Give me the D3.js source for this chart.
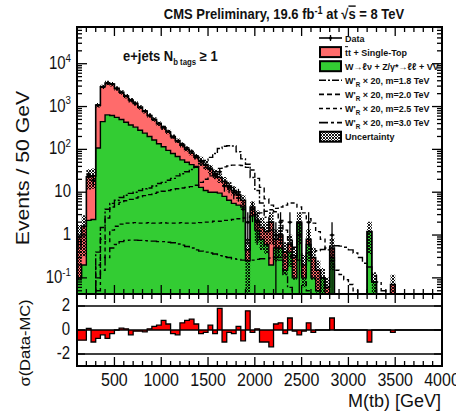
<!DOCTYPE html>
<html>
<head>
<meta charset="utf-8">
<script src="https://cdn.jsdelivr.net/npm/d3@7"></script>
<style>
  body { margin: 0; background: #fff; }
  svg { display: block; }
  text { font-family: "Liberation Sans", Arial, Helvetica, sans-serif; }
</style>
</head>
<body>
<svg id="chart" width="456" height="416"></svg>
<script>
// ---- binning: 50 GeV bins from 100 to 4000 GeV ----
const massEdges = d3.range(100, 4001, 50);

// W+jets + Z/gamma* + diboson (green), events per bin
const wjets = [0.1,0.2,2.2,2.3,108,445,640,620,560,500,430,370,330,280,240,200,165,135,115,95,
  80,68,57,50,44,38,13,11,10,10,9.5,8,6.5,5.5,5,4.5,0.25,2.8,1.3,0.8,
  0.6,0.2,0.5,0.5,0.15,0.4,0.1,1.9,0.1,0.6,0.1,0.05,0.1,0,0.3,0,0,0,0,0,
  0,0,1.2,0.08,0,0,0,0,0,0,0,0,0,0,0,0,0,0];

// ttbar + single top (red), stacked on top of wjets
const ttbar = [0.8,1.4,20.8,21.7,972,2455,2910,2730,2090,1650,1320,1050,850,680,540,420,335,265,205,160,
  120,92,69,50,38,28,41,33,24,17,12.5,10,7.5,5.5,3.6,2.0,0.2,1.7,0.9,0.7,
  0.6,1.8,0.3,0.5,0.25,0.2,0.2,0.1,0.1,0.2,0.2,0.1,0,0.06,0.2,0,0,0,0,0,
  0,0,0,0,0,0,0,0.07,0,0,0,0,0,0,0,0,0,0];

// relative uncertainty on the total background
const bkgUnc = [0.9,0.8,0.5,0.5,0.12,0.12,0.12,0.12,0.12,0.12,0.12,0.12,0.12,0.12,0.12,0.12,0.12,0.12,0.12,0.12,
  0.12,0.12,0.12,0.12,0.12,0.12,0.25,0.25,0.25,0.25,0.25,0.25,0.25,0.25,0.25,0.3,0.9,0.35,0.7,0.7,
  0.7,0.7,0.7,0.7,0.7,0.7,0.7,0.7,0.7,0.7,0.7,0.7,0.7,0.7,0.7,0.7,0.7,0.7,0.7,0.7,
  0.7,0.7,0.7,0.7,0.7,0.7,0.7,0.7,0.7,0.7,0.7,0.7,0.7,0.7,0.7,0.7,0.7,0.7];

// observed events
const dataCounts = [0,0,25,19,1057,2880,3510,3320,2650,2157,1754,1405,1177,957,776,622,507,408,334,263,
  195,155,133,108,90,70,52,43,36,25,30,14,13,10,9,4,2,4,2,0,
  0,0,1,2,0,2,0,1,0,2,0,0,0,0,1,0,0,0,0,0,
  0,0,0,0,0,0,0,0,0,0,0,0,0,0,0,0,0,0];

// (Data - MC) / sigma per bin
const pulls = [-0.85,-0.85,0.14,-1.0,-0.7,-0.4,-0.7,-0.3,0,0.15,0.1,-0.4,-0.1,-0.1,-0.15,0.1,0.3,0.4,0.8,0.5,
  -0.3,-0.4,0.6,0.8,0.9,0.5,-0.3,-0.2,0.4,-0.3,1.8,-1.0,-0.2,-0.3,0.3,-0.9,1.6,-0.2,0.1,-1.0,
  -1.0,-1.4,0.5,0.6,-0.3,1.0,-0.1,-0.4,-0.1,0.6,-0.2,0,0,0,1.0,0,0,0,0,0,
  0,0,-1.0,0,0,0,0,-0.2,0,0,0,0,0,0,0,0,0,0];

// W'_R signals, scaled by 20
const sigM18 = [0,0,0,0,0.4,1.5,4,5.5,6.5,7.5,8.5,9.4,10,11,12,12.5,14,16,17,19,
  21,24,27,30,34,40,46,55,65,80,105,118,122,120,88,60,45,22,11,5.6,
  2.6,1.3,0.52,0.26,0.12,0.06,0,0,0,0,0,0,0,0,0,0,0,0,0,0,
  0,0,0,0,0,0,0,0,0,0,0,0,0,0,0,0,0,0];
const sigM20 = [0,0,0,0,0.2,0.8,2.5,4.5,5.2,5.8,6.3,6.8,7.3,7.8,8.3,8.8,9.4,10,10.5,11,
  11.5,12,12.5,13,13.5,14.5,17,20,24,30,36,39,41,43,43,42,38,33,21,13,
  7,5,3.5,2.2,1.3,0.76,0.52,0.26,0.12,0.05,0,0,0,0,0,0,0,0,0,0,
  0,0,0,0,0,0,0,0,0,0,0,0,0,0,0,0,0,0];
const sigM25 = [0,0,0,0,0.1,0.3,0.7,1.3,1.6,1.8,1.9,1.9,1.95,1.9,1.9,1.95,1.9,1.9,1.95,1.9,
  1.9,1.9,1.95,1.9,1.9,1.9,1.95,2.0,2.0,2.1,2.1,2.2,2.2,2.3,2.4,2.5,2.6,2.8,3.0,3.3,
  3.6,3.9,4.2,4.5,5.0,5.6,5.6,4.5,3.3,2.4,1.9,1.2,0.8,0.45,0.25,0.15,0.12,0.09,0.07,0.05,
  0,0,0,0,0,0,0,0,0,0,0,0,0,0,0,0,0,0];
const sigM30 = [0,0,0,0,0.05,0.15,0.3,0.5,0.6,0.7,0.75,0.76,0.76,0.75,0.74,0.72,0.72,0.7,0.7,0.68,
  0.66,0.62,0.58,0.54,0.5,0.45,0.42,0.4,0.38,0.36,0.33,0.31,0.3,0.28,0.27,0.26,0.26,0.26,0.27,0.28,
  0.28,0.29,0.3,0.3,0.31,0.32,0.33,0.34,0.36,0.38,0.4,0.43,0.46,0.5,0.55,0.56,0.55,0.52,0.45,0.38,
  0.3,0.22,0.18,0.12,0.08,0.05,0,0,0,0,0,0,0,0,0,0,0,0];

const signalSeries = [
  { vals: sigM18, dash: "7,2,2,2", label: ", m=1.8 TeV" },
  { vals: sigM20, dash: "5,3",     label: ", m=2.0 TeV" },
  { vals: sigM25, dash: "4,3",     label: ", m=2.5 TeV" },
  { vals: sigM30, dash: "9,3,3,3", label: ", m=3.0 TeV" }
];

const xTickValues = [500, 1000, 1500, 2000, 2500, 3000, 3500, 4000];
const yTickLabels = [
  { v: 1e4, base: "10", sup: "4" },
  { v: 1e3, base: "10", sup: "3" },
  { v: 1e2, base: "10", sup: "2" },
  { v: 10,  base: "10", sup: "" },
  { v: 1,   base: "1",  sup: "" },
  { v: 0.1, base: "10", sup: "-1" }
];
const ratioTickValues = [2, 0, -2];

// ---- layout ----
const L = 77, R = 442, T = 27, B = 294, RB = 366;
const STRETCH = 1.18;
const FLOOR = 1e-3;
const RED = "#ff6b6b", GREEN = "#33cc33";

const svg = d3.select("#chart");
const x = d3.scaleLinear().domain([100, 4000]).range([L, R]);
const y = d3.scaleLog().domain([0.042, 72000]).range([B, T]);
const yr = d3.scaleLinear().domain([-3, 3]).range([RB, B]);

const defs = svg.append("defs");
defs.append("clipPath").attr("id", "mainClip")
  .append("rect").attr("x", L).attr("y", T).attr("width", R - L).attr("height", B - T);
defs.append("clipPath").attr("id", "ratioClip")
  .append("rect").attr("x", L).attr("y", B).attr("width", R - L).attr("height", RB - B);
const hatch = defs.append("pattern").attr("id", "hatch")
  .attr("patternUnits", "userSpaceOnUse").attr("width", 3).attr("height", 3);
hatch.append("path").attr("d", "M0,3 L3,0 M-1,1 L1,-1 M2,4 L4,2").attr("stroke", "#000").attr("stroke-width", 0.9);
hatch.append("path").attr("d", "M0,0 L3,3 M-1,2 L1,4 M2,-1 L4,1").attr("stroke", "#000").attr("stroke-width", 0.9);

// text helper: parts = [{t, o (baseline offset), s (size factor), deco}]
function drawText(parent, px, py, parts, opt) {
  const size = opt.size, st = opt.stretch ?? STRETCH;
  let tf = `translate(${px},${py}) scale(1,${st})`;
  if (opt.rotate) tf += ` rotate(${opt.rotate})`;
  const t = parent.append("text").attr("transform", tf)
    .attr("font-size", size).attr("text-anchor", opt.anchor || "start")
    .attr("font-weight", opt.weight || "normal").attr("fill", opt.fill || "#111");
  let prev = 0;
  parts.forEach(p => {
    const o = p.o || 0;
    const ts = t.append("tspan").text(p.t).attr("font-size", size * (p.s || 1));
    if (o !== prev) ts.attr("dy", o - prev);
    if (p.deco) ts.attr("text-decoration", p.deco);
    prev = o;
  });
  return t;
}

function binPts(vals) {
  return vals.flatMap((v, i) => [[massEdges[i], v], [massEdges[i + 1], v]]);
}
const ylog = v => y(Math.max(v, FLOOR));
const stepLine = d3.line().x(d => x(d[0])).y(d => ylog(d[1]));

const totals = wjets.map((w, i) => w + ttbar[i]);

// ---- main panel ----
const main = svg.append("g").attr("clip-path", "url(#mainClip)");

const greenPts = binPts(wjets);
const totalPts = binPts(totals);

main.append("path")
  .attr("d", d3.area().x(d => x(d[0])).y0(B + 80).y1(d => ylog(d[1]))(greenPts))
  .attr("fill", GREEN);
main.append("path")
  .attr("d", d3.area().x(d => x(d[0])).y0((d, i) => ylog(greenPts[i][1])).y1(d => ylog(d[1]))(totalPts))
  .attr("fill", RED);
main.append("path").attr("d", stepLine(greenPts)).attr("fill", "none").attr("stroke", "#000").attr("stroke-width", 1.4);
main.append("path").attr("d", stepLine(totalPts)).attr("fill", "none").attr("stroke", "#000").attr("stroke-width", 1.6);

// uncertainty band
const uncPts = totals.flatMap((t, i) => {
  const lo = t * (1 - bkgUnc[i]), hi = t * (1 + bkgUnc[i]);
  return [{ x: massEdges[i], lo, hi, ok: t > 0 }, { x: massEdges[i + 1], lo, hi, ok: t > 0 }];
});
main.append("path")
  .attr("d", d3.area().defined(d => d.ok).x(d => x(d.x)).y0(d => ylog(d.lo)).y1(d => ylog(d.hi))(uncPts))
  .attr("fill", "url(#hatch)");

// signals
signalSeries.forEach(s => {
  main.append("path").attr("d", stepLine(binPts(s.vals)))
    .attr("fill", "none").attr("stroke", "#000").attr("stroke-width", 1.4)
    .attr("stroke-dasharray", s.dash);
});

// data points
const dataG = main.append("g");
dataCounts.forEach((n, i) => {
  if (n <= 0) return;
  const cx = x((massEdges[i] + massEdges[i + 1]) / 2);
  const err = Math.sqrt(n);
  dataG.append("line").attr("x1", cx).attr("x2", cx)
    .attr("y1", ylog(n - err)).attr("y2", ylog(n + err)).attr("stroke", "#000").attr("stroke-width", 1.3);
  dataG.append("line").attr("x1", x(massEdges[i])).attr("x2", x(massEdges[i + 1]))
    .attr("y1", ylog(n)).attr("y2", ylog(n)).attr("stroke", "#000").attr("stroke-width", 1.3);
  dataG.append("circle").attr("cx", cx).attr("cy", ylog(n)).attr("r", 1.5).attr("fill", "#000");
});

// ---- ratio panel ----
const ratio = svg.append("g").attr("clip-path", "url(#ratioClip)");
const pullPts = binPts(pulls);
ratio.append("path")
  .attr("d", d3.area().x(d => x(d[0])).y0(yr(0)).y1(d => yr(d[1]))(pullPts))
  .attr("fill", "#ff0000");
ratio.append("path")
  .attr("d", d3.line().x(d => x(d[0])).y(d => yr(d[1]))(pullPts))
  .attr("fill", "none").attr("stroke", "#000").attr("stroke-width", 1.3);
ratioTickValues.forEach(v => {
  ratio.append("line").attr("x1", L).attr("x2", R).attr("y1", yr(v)).attr("y2", yr(v))
    .attr("stroke", "#000").attr("stroke-width", 1.5);
});

// ---- frames and ticks ----
const axes = svg.append("g").attr("stroke", "#000").attr("fill", "none");
axes.append("rect").attr("x", L).attr("y", T).attr("width", R - L).attr("height", B - T).attr("stroke-width", 2);
axes.append("rect").attr("x", L).attr("y", B).attr("width", R - L).attr("height", RB - B).attr("stroke-width", 2);

const xMinor = d3.range(200, 4000, 100);
function xTicks(yEdge, dir) {
  xMinor.forEach(v => {
    const len = v % 500 === 0 ? 9 : 5;
    axes.append("line").attr("x1", x(v)).attr("x2", x(v))
      .attr("y1", yEdge).attr("y2", yEdge + dir * len).attr("stroke-width", 1.3);
  });
}
xTicks(T, 1); xTicks(B, -1); xTicks(B, 1); xTicks(RB, -1);

const logTicks = [];
for (let e = -2; e <= 4; e++) for (let m = 1; m <= 9; m++) {
  const v = m * Math.pow(10, e);
  if (v >= 0.042 && v <= 72000) logTicks.push({ v, major: m === 1 });
}
logTicks.forEach(t => {
  const len = t.major ? 10 : 5;
  axes.append("line").attr("x1", L).attr("x2", L + len).attr("y1", y(t.v)).attr("y2", y(t.v)).attr("stroke-width", 1.3);
  axes.append("line").attr("x1", R).attr("x2", R - len).attr("y1", y(t.v)).attr("y2", y(t.v)).attr("stroke-width", 1.3);
});
ratioTickValues.forEach(v => {
  axes.append("line").attr("x1", L).attr("x2", L + 8).attr("y1", yr(v)).attr("y2", yr(v)).attr("stroke-width", 1.3);
  axes.append("line").attr("x1", R).attr("x2", R - 8).attr("y1", yr(v)).attr("y2", yr(v)).attr("stroke-width", 1.3);
});

// ---- labels ----
const txt = svg.append("g");
xTickValues.forEach(v => drawText(txt, x(v), 386, [{ t: String(v) }], { size: 16, anchor: "middle" }));
yTickLabels.forEach(d => {
  const parts = [{ t: d.base }];
  if (d.sup) parts.push({ t: d.sup, o: -6, s: 0.65 });
  drawText(txt, 71, y(d.v) + 5, parts, { size: 15, anchor: "end" });
});
ratioTickValues.forEach(v => drawText(txt, 70, yr(v) + 5, [{ t: String(v) }], { size: 15, anchor: "end" }));

drawText(txt, 441, 407, [{ t: "M(tb) [GeV]" }], { size: 18, anchor: "end", stretch: 1.0 });
drawText(txt, 29, 168, [{ t: "Events / 50 GeV" }], { size: 18, anchor: "middle", rotate: -90 });
drawText(txt, 30, 343, [{ t: "σ(Data-MC)" }], { size: 15, anchor: "middle", rotate: -90, stretch: 1.1 });

drawText(txt, 284, 19, [
  { t: "CMS Preliminary, 19.6 fb" }, { t: "-1", o: -4.5, s: 0.7 }, { t: " at " },
  { t: "√" }, { t: "s", deco: "overline" }, { t: " = 8 TeV" }
], { size: 13, anchor: "middle", weight: "bold", stretch: 1.1 });

drawText(txt, 123, 61, [
  { t: "e+jets  N" }, { t: "b tags", o: 3.5, s: 0.6 }, { t: " ≥ 1", o: 0 }
], { size: 13, weight: "bold", stretch: 1.1 });

// ---- legend ----
const leg = svg.append("g");
const rowY = i => 38 + 14.1 * i;
const lx0 = 319, lx1 = 342, tx = 345;
const legText = (i, parts) => drawText(leg, tx, rowY(i) + 3.5, parts, { size: 9, weight: "bold", stretch: 1.1 });

leg.append("line").attr("x1", lx0).attr("x2", lx1).attr("y1", rowY(0)).attr("y2", rowY(0)).attr("stroke", "#000").attr("stroke-width", 1.6);
leg.append("line").attr("x1", (lx0 + lx1) / 2).attr("x2", (lx0 + lx1) / 2).attr("y1", rowY(0) - 3).attr("y2", rowY(0) + 3).attr("stroke", "#000").attr("stroke-width", 1.3);
leg.append("circle").attr("cx", (lx0 + lx1) / 2).attr("cy", rowY(0)).attr("r", 1.6).attr("fill", "#000");
legText(0, [{ t: "Data" }]);

leg.append("rect").attr("x", lx0 + 1).attr("y", rowY(1) - 5).attr("width", lx1 - lx0 - 2).attr("height", 10)
  .attr("fill", RED).attr("stroke", "#000").attr("stroke-width", 2);
legText(1, [{ t: "t", deco: "overline" }, { t: "t + Single-Top" }]);

leg.append("rect").attr("x", lx0 + 1).attr("y", rowY(2) - 5).attr("width", lx1 - lx0 - 2).attr("height", 10)
  .attr("fill", GREEN).attr("stroke", "#000").attr("stroke-width", 2);
legText(2, [{ t: "W→ℓν + Z/γ*→ℓℓ + VV" }]);

signalSeries.forEach((s, k) => {
  const i = 3 + k;
  leg.append("line").attr("x1", lx0).attr("x2", lx1).attr("y1", rowY(i)).attr("y2", rowY(i))
    .attr("stroke", "#000").attr("stroke-width", 1.6).attr("stroke-dasharray", s.dash);
  legText(i, [{ t: "W'" }, { t: "R", o: 2.5, s: 0.7 }, { t: " × 20" + s.label, o: 0 }]);
});

leg.append("rect").attr("x", lx0 + 1).attr("y", rowY(7) - 5).attr("width", lx1 - lx0 - 2).attr("height", 10)
  .attr("fill", "url(#hatch)").attr("stroke", "#000").attr("stroke-width", 2);
legText(7, [{ t: "Uncertainty" }]);
</script>
</body>
</html>
